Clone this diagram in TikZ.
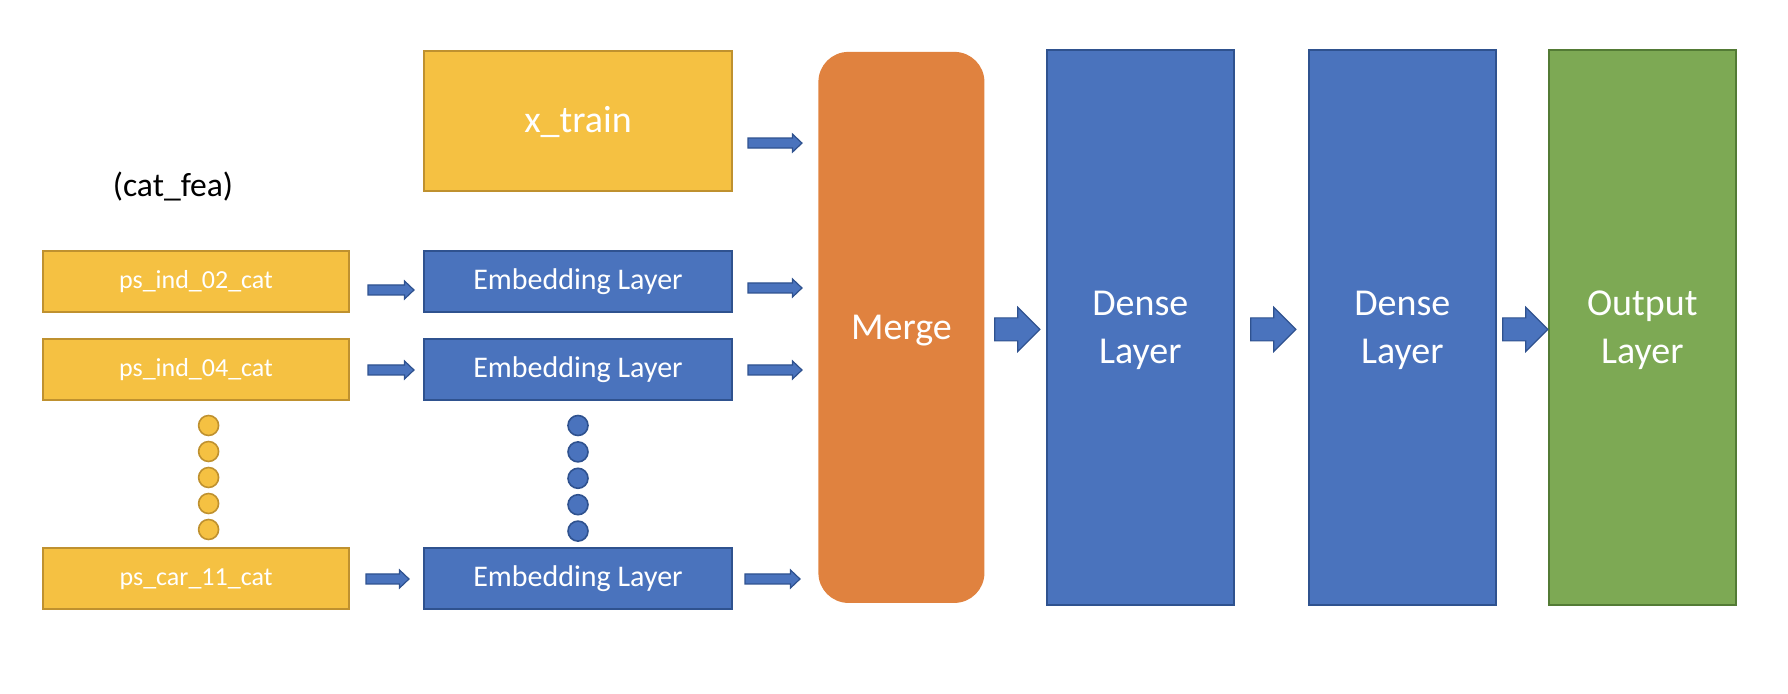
\documentclass[tikz,border=0pt]{standalone}
\usepackage{fontspec}
\setmainfont{Carlito}
\usepackage{xcolor}
\usetikzlibrary{positioning,calc}
\definecolor{catyel}{HTML}{F5C142}
\definecolor{yelline}{HTML}{BF912F}
\definecolor{nnblue}{HTML}{4A73BD}
\definecolor{bluline}{HTML}{2F528F}
\definecolor{mrgorange}{HTML}{E0823F}
\definecolor{outgreen}{HTML}{7DA954}
\definecolor{grnline}{HTML}{537B35}

\begin{document}
\begin{tikzpicture}[node distance=12.5pt,
 inbox/.style={draw=yelline,fill=catyel,line width=1pt,text=white,inner sep=0pt,minimum width=153pt,minimum height=30.5pt,font=\fontsize{13}{15}\selectfont},
 embox/.style={draw=bluline,fill=nnblue,line width=1pt,text=white,inner sep=0pt,minimum width=154pt,minimum height=30.5pt,font=\fontsize{15}{18}\selectfont},
 layer/.style={draw=bluline,fill=nnblue,line width=1pt,text=white,align=center,text depth=0pt,minimum width=93.5pt,minimum height=277.5pt,font=\fontsize{19}{24}\selectfont},
 merge/.style={fill=mrgorange,rounded corners=15pt,text=white,text depth=0pt,minimum width=83pt,minimum height=275.5pt,font=\fontsize{19}{24}\selectfont},
 ydot/.style={circle,draw=yelline,fill=catyel,line width=0.8pt,inner sep=0pt,minimum size=10pt},
 bdot/.style={circle,draw=bluline,fill=nnblue,line width=0.8pt,inner sep=0pt,minimum size=10pt},
 blockarr/.style n args={3}{draw=bluline,fill=nnblue,line width=0.6pt,
  to path={let \p1=(\tikztostart),\p2=(\tikztotarget) in
   (\x1,\y1+#1) -- (\x2-#3,\y1+#1) -- (\x2-#3,\y1+#2) -- (\x2,\y1) -- (\x2-#3,\y1-#2) -- (\x2-#3,\y1-#1) -- (\x1,\y1-#1) -- cycle}},
 sarr/.style={blockarr={2.5pt}{4.5pt}{4.75pt}},
 barr/.style={blockarr={5.75pt}{11pt}{11pt}}]
 \useasboundingbox (0,0) rectangle (894pt,-347pt);
 \node[inbox] (ps02) at (98pt,-141pt) {ps\_ind\_02\_cat};
 \node[inbox,below=of ps02] (ps04) {ps\_ind\_04\_cat};
 \node[inbox,below=73pt of ps04] (ps11) {ps\_car\_11\_cat};
 \node[above=24.5pt of ps02,xshift=-11.5pt,inner sep=0pt,font=\fontsize{16.8}{20}\selectfont] (catfea) {(cat\_fea)};
 \node[embox,right=36.5pt of ps02] (emb1) {Embedding Layer};
 \node[embox,right=36.5pt of ps04] (emb2) {Embedding Layer};
 \node[embox,right=36.5pt of ps11] (emb3) {Embedding Layer};
 \node[inbox,above=29pt of emb1,minimum width=154pt,minimum height=70pt,font=\fontsize{19}{24}\selectfont] (xtrain) {x\_train};
 \node[merge,right=42.5pt of xtrain.north east,anchor=north west,yshift=-0.5pt] (mrg) {Merge};
 \node[layer,right=30.5pt of mrg] (dense1) {Dense\\Layer};
 \node[layer,right=36.5pt of dense1] (dense2) {Dense\\Layer};
 \node[layer,draw=grnline,fill=outgreen,right=25.5pt of dense2] (out) {Output\\Layer};
 % dots between the rows
 \foreach \k in {1,...,5}{
  \node[ydot] (yd\k) at ([xshift=6.3pt,yshift={-12pt-13pt*(\k-1)}]ps04.south) {};
  \node[bdot] (bd\k) at ([yshift={-12pt-13.2pt*(\k-1)}]emb2.south) {};
 }
 \draw[sarr] ([xshift=9pt,yshift=-4pt]ps02.east) to ([xshift=-4.5pt]emb1.west);
 \draw[sarr] ([xshift=9pt]ps04.east) to ([xshift=-4.5pt]emb2.west);
 \draw[sarr] ([xshift=8pt]ps11.east) to ([xshift=-7pt]emb3.west);
 \draw[sarr] ([xshift=7.5pt,yshift=-10.8pt]xtrain.east) to ([xshift=-8pt]mrg.west);
 \draw[sarr] ([xshift=7.5pt,yshift=-3pt]emb1.east) to ([xshift=-8pt]mrg.west);
 \draw[sarr] ([xshift=7.5pt]emb2.east) to ([xshift=-8pt]mrg.west);
 \draw[sarr] ([xshift=6pt]emb3.east) to ([xshift=-9pt]mrg.west);
 \draw[barr] ([xshift=5pt,yshift=-1pt]mrg.east) to ([xshift=-3pt]dense1.west);
 \draw[barr] ([xshift=8pt,yshift=-1pt]dense1.east) to ([xshift=-6pt]dense2.west);
 \draw[barr] ([xshift=3pt,yshift=-1pt]dense2.east) to (out.west);
\end{tikzpicture}
\end{document}
